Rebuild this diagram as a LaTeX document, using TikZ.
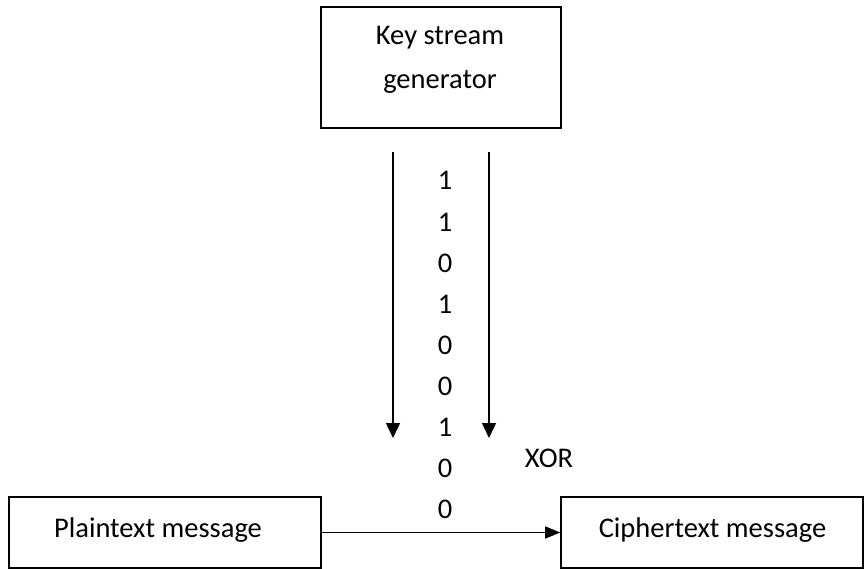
\documentclass[tikz,border=0pt]{standalone}
\usepackage{fontspec}
\setmainfont{Carlito}
\usetikzlibrary{arrows.meta}
\begin{document}
\begin{tikzpicture}[x=1pt,y=-1pt,
  box/.style={draw=black, line width=1.6pt, inner sep=0pt},
  lbl/.style={inner sep=0pt, anchor=base, font=\fontsize{28.5}{34}\selectfont},
  flow/.style={line width=1.5pt, -{Triangle[width=14pt,length=15pt]}},
  hflow/.style={line width=1.5pt, -{Triangle[width=12pt,length=15pt]}}]
  \useasboundingbox (0,0) rectangle (864,569);

  % key stream generator
  \node[box, minimum width=240pt, minimum height=121pt] (key) at (441,67.5) {};
  \node[lbl] (keyA) at (440,45) {Key stream};
  \node[lbl] (keyB) at (440,89) {generator};

  % the two stream arrows
  \coordinate (la) at (393,152);
  \coordinate (lb) at (393,438);
  \coordinate (ra) at (489,152);
  \coordinate (rb) at (489,438);
  \draw[flow] (la) -- (lb);
  \draw[flow] (ra) -- (rb);

  % key stream bits
  \foreach \b [count=\i from 0] in {1,1,0,1,0,0,1,0,0}{
    \node[lbl] (bit\i) at (445,{190+41.1*\i}) {\b};
  }

  \node[lbl] (xor) at (549,467) {XOR};

  % message boxes
  \node[box, minimum width=312pt, minimum height=71pt] (plain) at (165,532.5) {};
  \node[lbl] (plainT) at (158,537) {Plaintext message};
  \node[box, minimum width=302pt, minimum height=71pt] (cipher) at (712,532.5) {};
  \node[lbl] (cipherT) at (712.5,537) {Ciphertext message};

  \draw[hflow] (plain.east) -- (cipher.west);
\end{tikzpicture}
\end{document}
